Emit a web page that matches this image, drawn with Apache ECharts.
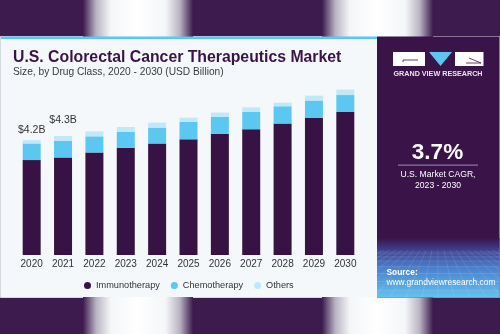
<!DOCTYPE html>
<html>
<head>
<meta charset="utf-8">
<script src="https://cdn.jsdelivr.net/npm/echarts@6/dist/echarts.min.js"></script>
<style>
html,body{margin:0;padding:0;background:#3d1b4e;}
#chart{width:500px;height:334px;}
</style>
</head>
<body>
<div id="chart"></div>
<script>
var years = ['2020','2021','2022','2023','2024','2025','2026','2027','2028','2029','2030'];
var immunotherapy = [3.47, 3.57, 3.75, 3.92, 4.08, 4.23, 4.43, 4.60, 4.81, 5.01, 5.23];
var chemotherapy = [0.61, 0.60, 0.59, 0.58, 0.58, 0.64, 0.62, 0.63, 0.63, 0.64, 0.62];
var others = [0.12, 0.18, 0.18, 0.18, 0.18, 0.15, 0.16, 0.17, 0.13, 0.18, 0.20];
var totalLabels = ['$4.2B', '$4.3B', '', '', '', '', '', '', '', '', ''];
var labelGaps = [5, 10, 0, 0, 0, 0, 0, 0, 0, 0, 0];

var FONT = '"Liberation Sans", Arial, sans-serif';
var PURPLE = '#3d1b4e';
var DARK = '#371245';

var othersData = others.map(function (v, i) {
  var item = { value: v };
  if (totalLabels[i]) {
    item.label = {
      show: true, position: 'top', distance: labelGaps[i],
      formatter: totalLabels[i], color: '#333', fontSize: 10.5, fontFamily: FONT
    };
  }
  return item;
});

function glare(x, y, w, h) {
  return {
    type: 'rect', shape: { x: x, y: y, width: w, height: h }, silent: true,
    style: {
      fill: new echarts.graphic.LinearGradient(0, 0, 1, 0, [
        { offset: 0, color: PURPLE },
        { offset: 0.12, color: '#b9b3c2' },
        { offset: 0.25, color: '#f4f6f8' },
        { offset: 0.5, color: '#ffffff' },
        { offset: 0.75, color: '#f4f6f8' },
        { offset: 0.88, color: '#b9b3c2' },
        { offset: 1, color: PURPLE }
      ])
    }
  };
}

var gridLines = [];
for (var k = 0; k < 9; k++) {
  var yy = 252 + k * k * 0.62 + k * 1.2;
  if (yy > 296) break;
  gridLines.push({ type: 'line', silent: true, shape: { x1: 377, y1: yy, x2: 499, y2: yy },
    style: { stroke: 'rgba(255,255,255,0.2)', lineWidth: 0.6 } });
}
for (var m = -12; m <= 12; m++) {
  gridLines.push({ type: 'line', silent: true, shape: { x1: 438 + m * 6, y1: 250, x2: 438 + m * 16, y2: 297 },
    style: { stroke: 'rgba(255,255,255,0.18)', lineWidth: 0.6 } });
}

var chart = echarts.init(document.getElementById('chart'), null, { renderer: 'canvas' });
chart.setOption({
  animation: false,
  backgroundColor: PURPLE,
  graphic: [
    glare(83, 0, 110, 37), glare(322, 0, 111, 37),
    glare(83, 297, 110, 37), glare(322, 297, 111, 37),
    { type: 'rect', z: -1, shape: { x: 0.5, y: 36.5, width: 499, height: 261 }, silent: true,
      style: { fill: '#f5f8fb', stroke: '#d4d9df', lineWidth: 1 } },
    { type: 'rect', shape: { x: 1, y: 36.5, width: 376, height: 2.5 }, silent: true,
      style: { fill: '#5cc6ef' } },
    { type: 'rect', shape: { x: 377, y: 36.5, width: 122.5, height: 261 }, silent: true,
      style: { fill: '#3a1349' } },
    { type: 'rect', shape: { x: 377, y: 238, width: 122.5, height: 59.5 }, silent: true,
      style: {
        fill: new echarts.graphic.LinearGradient(0, 0, 0, 1, [
          { offset: 0, color: '#3a1349' },
          { offset: 0.2, color: '#3f3f8f' },
          { offset: 0.5, color: '#4a7fcc' },
          { offset: 1, color: '#63c3ee' }
        ])
      } },
    { type: 'group', children: gridLines },
    // logo
    { type: 'rect', shape: { x: 393, y: 52, width: 32, height: 14 }, silent: true, style: { fill: '#ffffff' } },
    { type: 'polyline', shape: { points: [[403, 62], [403, 60], [418, 60]] }, silent: true,
      style: { stroke: '#3a1349', lineWidth: 0.8, fill: null } },
    { type: 'polygon', shape: { points: [[429, 52], [452, 52], [440.5, 66]] }, silent: true, style: { fill: '#5cc6ef' } },
    { type: 'rect', shape: { x: 455, y: 52, width: 28.5, height: 14 }, silent: true, style: { fill: '#ffffff' } },
    { type: 'polyline', shape: { points: [[469, 58], [481, 63], [466, 63]] }, silent: true,
      style: { stroke: '#3a1349', lineWidth: 0.8, fill: null } },
    { type: 'text', x: 438, y: 74, silent: true,
      style: { text: 'GRAND VIEW RESEARCH', fill: '#e8e4ee', font: 'bold 7.2px ' + FONT,
        textAlign: 'center', textVerticalAlign: 'middle' } },
    // CAGR
    { type: 'text', x: 437.5, y: 152.5, silent: true,
      style: { text: '3.7%', fill: '#ffffff', font: 'bold 22.5px ' + FONT, textAlign: 'center', textVerticalAlign: 'middle' } },
    { type: 'rect', shape: { x: 398, y: 164.5, width: 80, height: 1.3 }, silent: true, style: { fill: '#8c77a3' } },
    { type: 'text', x: 438, y: 174.5, silent: true,
      style: { text: 'U.S. Market CAGR,', fill: '#ffffff', font: '8.6px ' + FONT, textAlign: 'center', textVerticalAlign: 'middle' } },
    { type: 'text', x: 438, y: 186, silent: true,
      style: { text: '2023 - 2030', fill: '#ffffff', font: '8.6px ' + FONT, textAlign: 'center', textVerticalAlign: 'middle' } },
    // source
    { type: 'text', x: 386.5, y: 273, silent: true,
      style: { text: 'Source:', fill: '#ffffff', font: 'bold 8.4px ' + FONT, textVerticalAlign: 'middle' } },
    { type: 'text', x: 386.5, y: 283, silent: true,
      style: { text: 'www.grandviewresearch.com', fill: '#ffffff', font: '8.4px ' + FONT, textVerticalAlign: 'middle' } },
    // titles
    { type: 'text', x: 13, y: 57.5, silent: true,
      style: { text: 'U.S. Colorectal Cancer Therapeutics Market', fill: '#3a1349', font: 'bold 15.8px ' + FONT, textVerticalAlign: 'middle' } },
    { type: 'text', x: 13, y: 72.5, silent: true,
      style: { text: 'Size, by Drug Class, 2020 - 2030 (USD Billion)', fill: '#3a3a3a', font: '10.2px ' + FONT, textVerticalAlign: 'middle' } }
  ],
  legend: {
    data: ['Immunotherapy', 'Chemotherapy', 'Others'],
    left: 79, top: 276,
    icon: 'circle', itemWidth: 7, itemHeight: 7, itemGap: 11,
    textStyle: { color: '#333', fontSize: 9.2, fontFamily: FONT }
  },
  grid: { left: 16, right: 139, top: 80, bottom: 79 },
  xAxis: {
    type: 'category', data: years,
    axisLine: { show: false }, axisTick: { show: false },
    axisLabel: { color: '#333', fontSize: 10, fontFamily: FONT, margin: 4 }
  },
  yAxis: { type: 'value', min: 0, max: 6.4, show: false, splitLine: { show: false } },
  series: [
    { name: 'Immunotherapy', type: 'bar', stack: 'total', barWidth: 18, data: immunotherapy,
      itemStyle: { color: DARK } },
    { name: 'Chemotherapy', type: 'bar', stack: 'total', barWidth: 18, data: chemotherapy,
      itemStyle: { color: '#5cc8f2' } },
    { name: 'Others', type: 'bar', stack: 'total', barWidth: 18, data: othersData,
      itemStyle: { color: '#bfe8f8' } }
  ]
});
</script>
</body>
</html>
